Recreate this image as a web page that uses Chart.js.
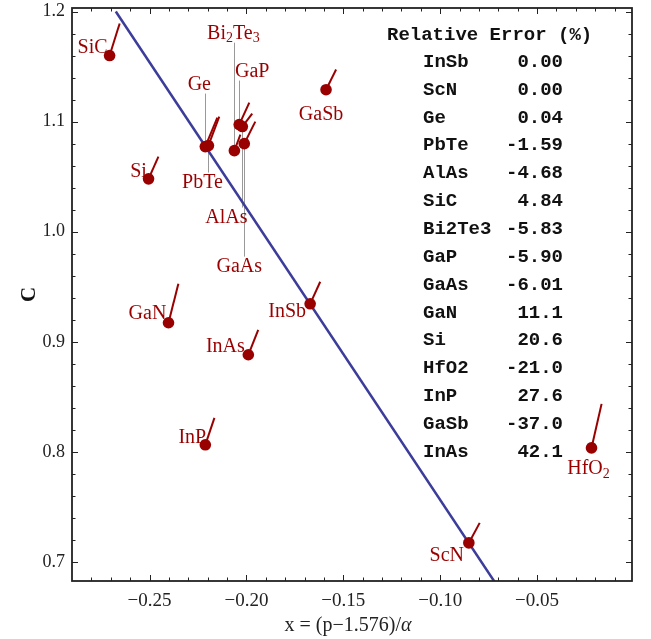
<html>
<head>
<script src="https://cdn.jsdelivr.net/npm/chart.js@4.4.0/dist/chart.umd.min.js"></script>
<style>
  body { margin: 0; background: #fff; }
</style>
</head>
<body>
<canvas id="cChart" width="651" height="639"></canvas>
<script>
// data
const names = ['SiC', 'Si', 'Ge', 'PbTe', 'Bi2Te3', 'GaP', 'AlAs', 'GaAs', 'GaSb', 'GaN', 'InSb', 'InAs', 'InP', 'HfO2', 'ScN'];
const xVals = [-0.2706, -0.2505, -0.2212, -0.2196, -0.2062, -0.2037, -0.2021, -0.2011, -0.1589, -0.2402, -0.1671, -0.1990, -0.2212, -0.0219, -0.0852];
const cVals = [1.160, 1.048, 1.0773, 1.0782, 1.0736, 1.0973, 1.0955, 1.080, 1.129, 0.9173, 0.9345, 0.8882, 0.8064, 0.8036, 0.7173];
// end of the short stick on each point
const tipX = [-0.2654, -0.2454, -0.2150, -0.2140, -0.2031, -0.1985, -0.1970, -0.1954, -0.1537, -0.2351, -0.1619, -0.1939, -0.2165, -0.0167, -0.0796];
const tipY = [1.1891, 1.0682, 1.1036, 1.1045, 1.0882, 1.1173, 1.1073, 1.1000, 1.1473, 0.9527, 0.9545, 0.9109, 0.8309, 0.8436, 0.7355];

// fitted line  C = a + b x
const fitA = 0.4914;
const fitB = -2.65;
const fitFrom = -0.2674;
const fitTo = -0.06;

const xTicks = [-0.25, -0.20, -0.15, -0.10, -0.05];
const yTicks = [0.7, 0.8, 0.9, 1.0, 1.1, 1.2];

const errNames = ['InSb', 'ScN', 'Ge', 'PbTe', 'AlAs', 'SiC', 'Bi2Te3', 'GaP', 'GaAs', 'GaN', 'Si', 'HfO2', 'InP', 'GaSb', 'InAs'];
const errValues = ['0.00', '0.00', '0.04', '-1.59', '-4.68', '4.84', '-5.83', '-5.90', '-6.01', '11.1', '20.6', '-21.0', '27.6', '-37.0', '42.1'];

const RED = 'rgb(153,0,0)';
const BLUE = 'rgb(60,60,155)';

// label offsets in px from the point; 'up'/'down' = gray leader line
const labelPlace = {
  SiC: [-17, -8], Si: [-10, -7], Ge: [-6, -62, 'up'], PbTe: [-6, 37, 'down'],
  Bi2Te3: [-1, -117, 'up'], GaP: [13, -53, 'up'], AlAs: [-16, 91, 'down'],
  GaAs: [-5, 123, 'down'], GaSb: [-5, 25], GaN: [-21, -9], InSb: [-23, 8],
  InAs: [-23, -8], InP: [-13, -7], HfO2: [-3, 21], ScN: [-22, 13]
};

function drawChem(ctx, text, cx, cy) {
  const parts = text.match(/[A-Za-z]+|\d+/g);
  const big = "20px 'Liberation Serif'", small = "14px 'Liberation Serif'";
  let w = 0;
  parts.forEach(p => { ctx.font = /\d/.test(p) ? small : big; w += ctx.measureText(p).width; });
  let x0 = cx - w / 2;
  parts.forEach(p => {
    const sub = /\d/.test(p);
    ctx.font = sub ? small : big;
    ctx.fillText(p, x0, cy + (sub ? 5 : 0));
    x0 += ctx.measureText(p).width;
  });
}

const sticks = {
  id: 'sticks',
  beforeDatasetsDraw(chart) {
    const {ctx, scales: {x, y}} = chart;
    ctx.save();
    // leader lines
    ctx.strokeStyle = '#999';
    ctx.lineWidth = 1;
    names.forEach((n, i) => {
      const p = labelPlace[n];
      if (!p[2]) return;
      const px = x.getPixelForValue(xVals[i]), py = y.getPixelForValue(cVals[i]);
      const ly = py + p[1] + (p[2] === 'up' ? 9 : -10);
      ctx.beginPath();
      ctx.moveTo(Math.round(px) + 0.5, py);
      ctx.lineTo(Math.round(px) + 0.5, ly);
      ctx.stroke();
    });
    // sticks
    ctx.strokeStyle = RED;
    ctx.lineWidth = 2;
    names.forEach((n, i) => {
      ctx.beginPath();
      ctx.moveTo(x.getPixelForValue(xVals[i]), y.getPixelForValue(cVals[i]));
      ctx.lineTo(x.getPixelForValue(tipX[i]), y.getPixelForValue(tipY[i]));
      ctx.stroke();
    });
    ctx.restore();
  },
  afterDatasetsDraw(chart) {
    const {ctx, scales: {x, y}} = chart;
    ctx.save();
    ctx.fillStyle = RED;
    ctx.textAlign = 'left';
    ctx.textBaseline = 'middle';
    names.forEach((n, i) => {
      const p = labelPlace[n];
      drawChem(ctx, n, x.getPixelForValue(xVals[i]) + p[0], y.getPixelForValue(cVals[i]) + p[1]);
    });
    ctx.restore();
  }
};

const frameTicks = {
  id: 'frameTicks',
  afterDraw(chart) {
    const {ctx, chartArea: a, scales: {x, y}} = chart;
    ctx.save();
    ctx.strokeStyle = '#222';
    ctx.lineWidth = 1;
    for (let i = Math.ceil(x.min * 100); i <= Math.floor(x.max * 100); i++) {
      const px = Math.round(x.getPixelForValue(i / 100)) + 0.5;
      const len = (i % 5 === 0) ? 6 : 3.5;
      ctx.beginPath();
      ctx.moveTo(px, a.bottom); ctx.lineTo(px, a.bottom - len);
      ctx.moveTo(px, a.top); ctx.lineTo(px, a.top + len);
      ctx.stroke();
    }
    for (let j = Math.ceil(y.min * 50); j <= Math.floor(y.max * 50); j++) {
      const py = Math.round(y.getPixelForValue(j / 50)) + 0.5;
      const len = (j % 5 === 0) ? 6 : 3.5;
      ctx.beginPath();
      ctx.moveTo(a.left, py); ctx.lineTo(a.left + len, py);
      ctx.moveTo(a.right, py); ctx.lineTo(a.right - len, py);
      ctx.stroke();
    }
    ctx.lineWidth = 1.8;
    ctx.strokeRect(a.left, a.top, a.right - a.left, a.bottom - a.top);

    // x axis title
    ctx.fillStyle = '#222';
    ctx.textBaseline = 'middle';
    ctx.textAlign = 'left';
    const t1 = 'x = (p\u22121.576)/', t2 = '\u03b1';
    ctx.font = "20px 'Liberation Serif'";
    const w1 = ctx.measureText(t1).width;
    ctx.font = "italic 20px 'Liberation Serif'";
    const w2 = ctx.measureText(t2).width;
    const x0 = 348 - (w1 + w2) / 2;
    ctx.font = "20px 'Liberation Serif'";
    ctx.fillText(t1, x0, 626);
    ctx.font = "italic 20px 'Liberation Serif'";
    ctx.fillText(t2, x0 + w1, 626);

    // relative error table
    ctx.fillStyle = '#111';
    ctx.font = "bold 19px 'Liberation Mono'";
    ctx.fillText('Relative Error (%)', 387, 35);
    errNames.forEach((n, i) => {
      const ry = 62 + i * 27.86;
      ctx.textAlign = 'left';
      ctx.fillText(n, 423, ry);
      ctx.textAlign = 'right';
      ctx.fillText(errValues[i], 563, ry);
    });
    ctx.restore();
  }
};

const fitLine = [fitFrom, fitTo].map(v => ({x: v, y: fitA + fitB * v}));

new Chart(document.getElementById('cChart'), {
  type: 'scatter',
  data: {
    datasets: [
      {
        data: xVals.map((v, i) => ({x: v, y: cVals[i]})),
        backgroundColor: RED,
        borderColor: RED,
        pointRadius: 5.8,
        pointHoverRadius: 5.8,
        borderWidth: 0
      },
      {
        type: 'line',
        data: fitLine,
        borderColor: BLUE,
        borderWidth: 2.5,
        pointRadius: 0,
        fill: false
      }
    ]
  },
  options: {
    responsive: false,
    animation: false,
    events: [],
    layout: {padding: {left: 0, top: 8, right: 19, bottom: 0}},
    plugins: {legend: {display: false}, tooltip: {enabled: false}},
    scales: {
      x: {
        type: 'linear',
        min: -0.29,
        max: -0.001,
        grid: {display: false, drawTicks: false},
        border: {display: false},
        afterBuildTicks: s => { s.ticks = xTicks.map(v => ({value: v})); },
        afterFit: s => { s.height = 58; s.paddingLeft = 0; s.paddingRight = 0; },
        ticks: {
          padding: 9,
          color: '#222',
          font: {family: 'Liberation Serif', size: 19},
          maxRotation: 0,
          callback: v => v.toFixed(2).replace('-', '\u2212')
        }
      },
      y: {
        min: 0.6827,
        max: 1.2032,
        grid: {display: false, drawTicks: false},
        border: {display: false},
        afterBuildTicks: s => { s.ticks = yTicks.map(v => ({value: v})); },
        afterFit: s => { s.width = 72; s.paddingTop = 0; s.paddingBottom = 0; },
        title: {
          display: true,
          text: 'C',
          color: '#111',
          font: {family: 'Liberation Serif', size: 21, weight: 'bold'},
          padding: {top: 17, bottom: 0}
        },
        ticks: {
          padding: 7,
          color: '#222',
          font: {family: 'Liberation Serif', size: 18},
          callback: v => v.toFixed(1)
        }
      }
    }
  },
  plugins: [sticks, frameTicks]
});
</script>
</body>
</html>
